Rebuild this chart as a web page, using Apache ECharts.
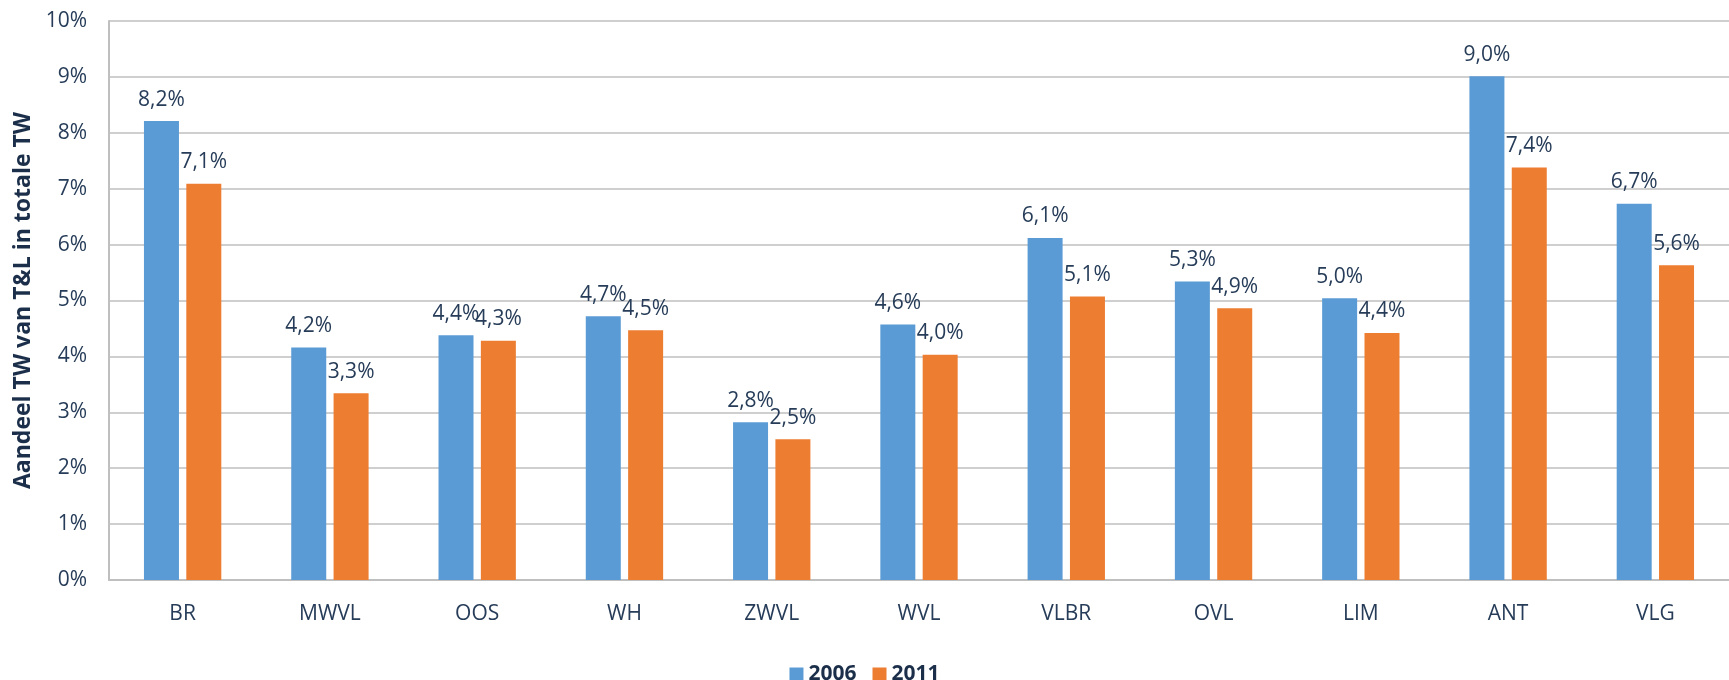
<!DOCTYPE html>
<html>
<head>
<meta charset="utf-8">
<title>Aandeel TW van T&amp;L</title>
<script src="https://cdn.jsdelivr.net/npm/echarts@6/dist/echarts.min.js"></script>
<style>
  html, body { margin: 0; padding: 0; background: #fff; }
  #BarChart { width: 1729px; height: 680px; }
</style>
</head>
<body>
<div id="BarChart"></div>
<script>
var categories = ["BR", "MWVL", "OOS", "WH", "ZWVL", "WVL", "VLBR", "OVL", "LIM", "ANT", "VLG"];
var values2006 = [8.21, 4.16, 4.38, 4.72, 2.82, 4.57, 6.12, 5.34, 5.04, 9.01, 6.73];
var values2011 = [7.09, 3.34, 4.28, 4.47, 2.52, 4.03, 5.07, 4.86, 4.42, 7.38, 5.63];
var yTicks = { min: 0, max: 10, step: 1 };

var textColor = "#263c58";
var fontName = "Open Sans";

function pct(p) {
  return p.value.toFixed(1).replace(".", ",") + "%";
}

var barLabel = {
  show: true,
  position: "top",
  distance: 11,
  formatter: pct,
  color: textColor,
  fontFamily: fontName,
  fontSize: 21
};

var chartDom = document.getElementById("BarChart");
var myChart = echarts.init(chartDom, null, { renderer: "canvas" });
var option;

option = {
  animation: false,
  textStyle: { fontFamily: fontName },
  grid: { left: 109, right: -12, top: 21, bottom: 100, containLabel: false },
  legend: {
    data: ["2006", "2011"],
    left: "center",
    top: 659,
    itemWidth: 14,
    itemHeight: 14,
    itemGap: 16,
    icon: "rect",
    textStyle: { color: "#1c2f4a", fontFamily: fontName, fontSize: 21, fontWeight: "bold" }
  },
  xAxis: {
    type: "category",
    data: categories,
    axisLine: { lineStyle: { color: "#bfbfbf", width: 2 } },
    axisTick: { show: false },
    axisLabel: { color: textColor, fontFamily: fontName, fontSize: 21, margin: 24 }
  },
  yAxis: {
    type: "value",
    min: yTicks.min,
    max: yTicks.max,
    interval: yTicks.step,
    name: "Aandeel TW van T&L in totale TW",
    nameLocation: "middle",
    nameGap: 71,
    nameTextStyle: { color: "#1c2f4a", fontFamily: fontName, fontSize: 23, fontWeight: "bold" },
    axisLine: { show: true, lineStyle: { color: "#bfbfbf", width: 2 } },
    axisTick: { show: false },
    splitLine: { lineStyle: { color: "#bfbfbf", width: 1.5 } },
    axisLabel: { color: textColor, fontFamily: fontName, fontSize: 21, margin: 22, formatter: "{value}%" }
  },
  series: [
    {
      name: "2006",
      type: "bar",
      data: values2006,
      barWidth: 35,
      barGap: "21%",
      itemStyle: { color: "#5b9bd5" },
      label: barLabel
    },
    {
      name: "2011",
      type: "bar",
      data: values2011,
      barWidth: 35,
      itemStyle: { color: "#ed7d31" },
      label: barLabel
    }
  ]
};

option && myChart.setOption(option);
</script>
</body>
</html>
